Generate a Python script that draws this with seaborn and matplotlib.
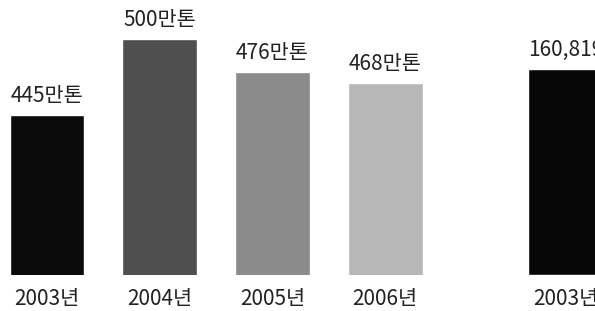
import matplotlib
matplotlib.use("Agg")
import matplotlib.pyplot as plt
import seaborn as sns
import pandas as pd

years = ["2003년", "2004년", "2005년", "2006년"]
tons = [445, 500, 476, 468]
ton_labels = ["445만톤", "500만톤", "476만톤", "468만톤"]
bar_colors = ["#0b0b0b", "#4f4f4f", "#8b8b8b", "#b7b7b7"]

right_years = ["2003년"]
right_values = [160819]
right_labels = ["160,819"]

sns.set_style("white")
plt.rcParams['font.family'] = ['Noto Sans CJK KR', 'DejaVu Sans']

W, H = 595, 311
fig = plt.figure(figsize=(W / 100, H / 100), dpi=100)

step = 112.7      # px between bar centres
base = 275        # baseline px from top
bw = 0.665

# left chart
ax = fig.add_axes([0, (H - base) / H, 450 / W, base / H])
df = pd.DataFrame({"year": years, "tons": tons})
sns.barplot(data=df, x="year", y="tons", hue="year", palette=bar_colors,
            width=bw, legend=False, ax=ax, saturation=1)
ax.set_xlim(-47 / step, -47 / step + 450 / step)
ax.set_ylim(329.5, 329.5 + base / 1.385)
for i, (v, lab) in enumerate(zip(tons, ton_labels)):
    ax.annotate(lab, (i, v), xytext=(0, 6), textcoords="offset points",
                ha="center", va="bottom", fontsize=15, color="#222222")

# right chart (cut off at the edge)
ax2 = fig.add_axes([490 / W, (H - base) / H, 105 / W, base / H])
df2 = pd.DataFrame({"year": right_years, "val": right_values})
sns.barplot(data=df2, x="year", y="val", color="#070707", width=bw,
            ax=ax2, saturation=1)
ax2.set_xlim(-(565.5 - 490) / step, (595 - 565.5) / step)
ax2.set_ylim(0, right_values[0] * base / 206)
for i, (v, lab) in enumerate(zip(right_values, right_labels)):
    ax2.annotate(lab, (i, v), xytext=(0, 6), textcoords="offset points",
                 ha="center", va="bottom", fontsize=15, color="#222222",
                 annotation_clip=False)

for a in (ax, ax2):
    a.set_xlabel("")
    a.set_ylabel("")
    a.set_yticks([])
    a.tick_params(axis="x", length=0, pad=9, labelsize=15, labelcolor="#222222")
    for s in a.spines.values():
        s.set_visible(False)
    a.patch.set_alpha(0)

for t in ax2.get_xticklabels():
    t.set_clip_on(False)

fig.savefig("out.png", dpi=100)
